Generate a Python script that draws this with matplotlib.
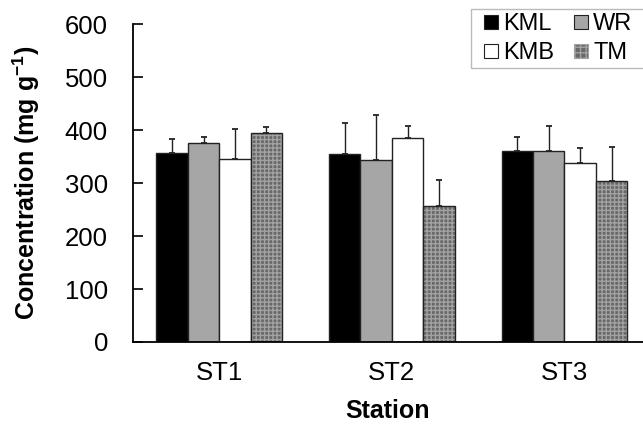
import numpy as np
import matplotlib.pyplot as plt
import matplotlib as mpl
from matplotlib.legend_handler import HandlerPatch

plt.rcParams['font.family'] = ['Liberation Sans', 'DejaVu Sans']
mpl.rcParams['hatch.linewidth'] = 1.0

stations = ['ST1', 'ST2', 'ST3']
series = ['KML', 'WR', 'KMB', 'TM']
kml = [358, 355, 360]
wr = [376, 344, 361]
kmb = [345, 386, 339]
tm = [395, 256, 305]
kml_err = [25, 58, 27]
wr_err = [11, 85, 48]
kmb_err = [57, 23, 27]
tm_err = [11, 50, 63]

vals = [kml, wr, kmb, tm]
errs = [kml_err, wr_err, kmb_err, tm_err]
faces = ['black', '#a6a6a6', 'white', '#686868']
hatch_col = '#a2a2a2'


def small_square(legend, orig_handle, xdescent, ydescent, width, height, fontsize):
    s = 10
    p = mpl.patches.Rectangle((-xdescent + 7.2, -ydescent + (height - s) / 2), s, s)
    return p


fig = plt.figure(figsize=(6.43, 4.24), dpi=100)
ax = fig.add_axes([0.2068, 0.1934, 0.7932, 0.749])

x = np.arange(len(stations))
w = 0.182
handles = []
for i in range(4):
    pos = x + (i - 1.5) * w
    if i == 3:
        # checkered fill: gray with light hatch, then outline on top
        ax.bar(pos, vals[i], w, color=faces[i], edgecolor=hatch_col, linewidth=0,
               hatch='++++', zorder=2)
        ax.bar(pos, vals[i], w, fill=False, edgecolor='#222222', linewidth=1.0, zorder=2.5)
        h = mpl.patches.Patch(facecolor=faces[i], edgecolor=hatch_col, hatch='+++',
                              linewidth=0.8, label=series[i])
    else:
        h = mpl.patches.Patch(facecolor=faces[i], edgecolor='#222222', linewidth=0.8,
                              label=series[i])
        ax.bar(pos, vals[i], w, color=faces[i], edgecolor='#222222', linewidth=1.0, zorder=2)
    handles.append(h)
    ax.errorbar(pos, vals[i], yerr=[np.zeros(3), errs[i]], fmt='none', ecolor='#222222',
                elinewidth=1.0, capsize=2.3, capthick=1.3, zorder=3)

ax.set_xlim(-0.5, 2.455)
ax.set_ylim(0, 600)
ax.set_yticks(np.arange(0, 601, 100))
ax.set_xticks(x)
ax.set_xticklabels(stations)
ax.tick_params(axis='x', length=0, labelsize=18.5, pad=14)
ax.tick_params(axis='y', direction='in', length=7, width=1.2, labelsize=18.5, pad=18)
for s in ['top', 'right']:
    ax.spines[s].set_visible(False)
ax.spines['left'].set_linewidth(1.3)
ax.spines['bottom'].set_linewidth(1.3)

ax.set_ylabel('Concentration (mg g$^{\\mathregular{-1}}$)', fontsize=18, fontweight='bold')
ax.yaxis.set_label_coords(-0.179, 0.5)
ax.set_xlabel('Station', fontsize=18, fontweight='bold', labelpad=10)

# legend box runs off the right edge, as in the source figure
box = mpl.patches.Rectangle((471 / 643, 1 - 68 / 424), 0.4, 59 / 424, transform=fig.transFigure,
                            facecolor='white', edgecolor='#bbbbbb', linewidth=1.0, zorder=5)
fig.patches.append(box)

order = [0, 2, 1, 3]
hm = {h: HandlerPatch(patch_func=small_square) for h in handles}
leg = fig.legend([handles[k] for k in order], [series[k] for k in order], ncol=2,
                 handler_map=hm,
                 loc='upper left', bbox_to_anchor=(471 / 643, 1 - 10 / 424),
                 fontsize=17, frameon=False,
                 handlelength=1.1, handleheight=0.75, handletextpad=0.12,
                 columnspacing=0.45, borderpad=0.12, labelspacing=0.32, borderaxespad=0)
leg.set_zorder(6)

fig.savefig('out.png', dpi=100)
